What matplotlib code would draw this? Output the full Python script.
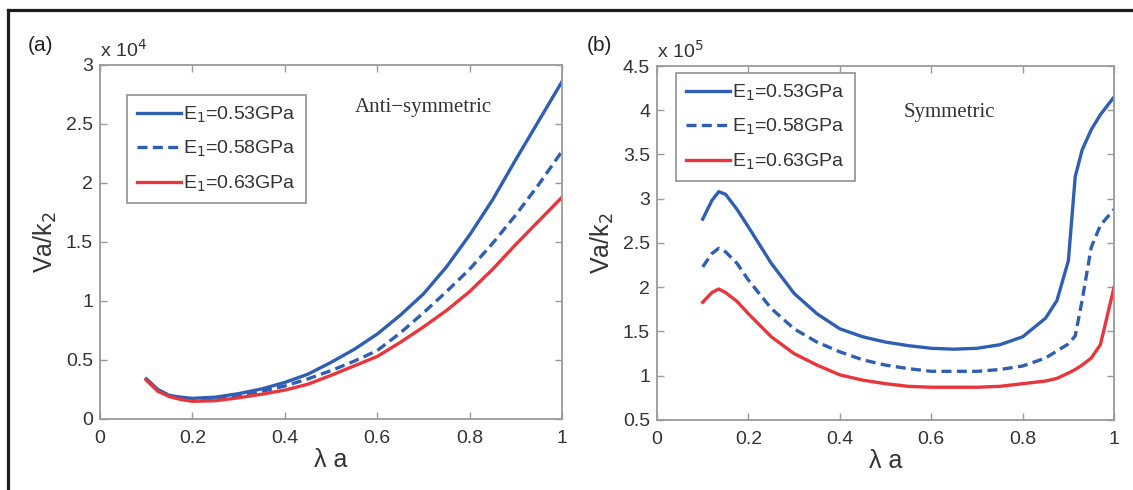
import numpy as np
import matplotlib
matplotlib.use("Agg")
import matplotlib.pyplot as plt
from matplotlib.lines import Line2D
from matplotlib.ticker import FuncFormatter

plt.rcParams["font.family"] = ["Liberation Sans", "DejaVu Sans"]

# ---------------------------------------------------------------------------
# Data
# ---------------------------------------------------------------------------
series_labels = ["E$_1$=0.53GPa", "E$_1$=0.58GPa", "E$_1$=0.63GPa"]

# (a) anti-symmetric mode
x_anti = [0.10, 0.125, 0.15, 0.175, 0.20, 0.25, 0.30, 0.35, 0.40, 0.45, 0.50,
          0.55, 0.60, 0.65, 0.70, 0.75, 0.80, 0.85, 0.90, 0.95, 1.00]
anti_053 = [3400, 2500, 2000, 1850, 1750, 1850, 2150, 2550, 3100, 3800, 4800,
            5900, 7200, 8800, 10600, 12900, 15600, 18600, 22000, 25300, 28600]
anti_058 = [3400, 2450, 1950, 1750, 1650, 1750, 2000, 2350, 2800, 3400, 4100,
            4900, 5800, 7300, 9000, 10800, 12700, 14900, 17300, 19900, 22700]
anti_063 = [3300, 2350, 1900, 1650, 1500, 1550, 1800, 2100, 2450, 2950, 3700,
            4500, 5300, 6500, 7800, 9200, 10800, 12700, 14800, 16800, 18800]

# (b) symmetric mode
x_sym = [0.10, 0.12, 0.135, 0.15, 0.175, 0.20, 0.25, 0.30, 0.35, 0.40, 0.45,
         0.50, 0.55, 0.60, 0.65, 0.70, 0.75, 0.80, 0.85, 0.875, 0.90, 0.915,
         0.93, 0.95, 0.97, 1.00]
sym_053 = [2.77, 2.98, 3.08, 3.05, 2.88, 2.68, 2.27, 1.93, 1.70, 1.53, 1.44,
           1.38, 1.34, 1.31, 1.30, 1.31, 1.35, 1.44, 1.65, 1.85, 2.30, 3.25,
           3.55, 3.78, 3.95, 4.15]
sym_058 = [2.23, 2.38, 2.44, 2.40, 2.27, 2.08, 1.76, 1.53, 1.38, 1.27, 1.18,
           1.12, 1.08, 1.05, 1.05, 1.05, 1.07, 1.11, 1.20, 1.28, 1.36, 1.45,
           1.85, 2.45, 2.70, 2.88]
sym_063 = [1.83, 1.94, 1.98, 1.94, 1.84, 1.70, 1.44, 1.25, 1.12, 1.01, 0.95,
           0.91, 0.88, 0.87, 0.87, 0.87, 0.88, 0.91, 0.94, 0.97, 1.03, 1.07,
           1.12, 1.20, 1.35, 2.00]
sym_053 = [v * 1e5 for v in sym_053]
sym_058 = [v * 1e5 for v in sym_058]
sym_063 = [v * 1e5 for v in sym_063]

BLUE = "#2f5fb5"
RED = "#e8363c"
SPINE = "#9a9a9a"
TXT = "#333333"


def style_axes(ax, scale, yticks, ylim, exp):
    ax.set_xlim(0, 1)
    ax.set_ylim(*ylim)
    ax.set_xticks([0, 0.2, 0.4, 0.6, 0.8, 1.0])
    ax.set_yticks(yticks)
    ax.xaxis.set_major_formatter(FuncFormatter(lambda v, p: "%g" % round(v, 2)))
    ax.yaxis.set_major_formatter(FuncFormatter(lambda v, p: "%g" % round(v / scale, 2)))
    ax.tick_params(direction="in", length=5, width=1, color=SPINE,
                   top=True, right=True, labelsize=14, labelcolor=TXT)
    ax.tick_params(axis="x", pad=8)
    ax.tick_params(axis="y", pad=5)
    for s in ax.spines.values():
        s.set_color(SPINE)
        s.set_linewidth(1.3)
    ax.set_xlabel("λ a", fontsize=18, color=TXT, labelpad=1)
    ax.set_ylabel("Va/k$_2$", fontsize=18, color=TXT, labelpad=5)
    ax.text(0.0, 1.012, "x 10$^{%d}$" % exp, transform=ax.transAxes,
            fontsize=14, color=TXT, ha="left", va="bottom")


fig = plt.figure(figsize=(11.33, 4.9), dpi=100)

# frame lines (top and left) around the figure
fig.add_artist(Line2D([0.0071, 0.0071], [0.0, 0.9796], color="#1e1e1e", lw=2.3))
fig.add_artist(Line2D([0.0071, 1.0], [0.9796, 0.9796], color="#1e1e1e", lw=2.3))

leg_kw = dict(loc="upper left", borderaxespad=0, fontsize=14, handlelength=2.3,
              handletextpad=0.1, labelspacing=0.72, fancybox=False,
              framealpha=1, edgecolor=SPINE, borderpad=0.5)

# ---------------------------------------------------------------------------
# Panel (a)
# ---------------------------------------------------------------------------
ax1 = fig.add_axes([0.0883, 0.1449, 0.4078, 0.7225])
ax1.plot(x_anti, anti_053, color=BLUE, lw=2.4, label=series_labels[0])
ax1.plot(x_anti, anti_058, color=BLUE, lw=2.4, ls=(0, (3, 1.6)), label=series_labels[1])
ax1.plot(x_anti, anti_063, color=RED, lw=2.4, label=series_labels[2])
style_axes(ax1, 1e4, [0, 5000, 10000, 15000, 20000, 25000, 30000], (0, 30000), 4)
leg1 = ax1.legend(bbox_to_anchor=(0.058, 0.915), **leg_kw)
leg1.get_frame().set_linewidth(1.3)
for t in leg1.get_texts():
    t.set_color(TXT)
ax1.text(0.70, 0.881, "Anti\u2212symmetric", transform=ax1.transAxes,
         fontsize=15, family="Liberation Serif", color=TXT,
         ha="center", va="center")
fig.text(0.0247, 0.908, "(a)", fontsize=15, color="#222222", ha="left", va="center")

# ---------------------------------------------------------------------------
# Panel (b)
# ---------------------------------------------------------------------------
ax2 = fig.add_axes([0.5799, 0.1429, 0.4034, 0.7224])
ax2.plot(x_sym, sym_053, color=BLUE, lw=2.4, label=series_labels[0])
ax2.plot(x_sym, sym_058, color=BLUE, lw=2.4, ls=(0, (3, 1.6)), label=series_labels[1])
ax2.plot(x_sym, sym_063, color=RED, lw=2.4, label=series_labels[2])
style_axes(ax2, 1e5, [0.5e5, 1e5, 1.5e5, 2e5, 2.5e5, 3e5, 3.5e5, 4e5, 4.5e5],
           (0.5e5, 4.5e5), 5)
leg2 = ax2.legend(bbox_to_anchor=(0.0416, 0.98), **leg_kw)
leg2.get_frame().set_linewidth(1.3)
for t in leg2.get_texts():
    t.set_color(TXT)
ax2.text(0.639, 0.87, "Symmetric", transform=ax2.transAxes,
         fontsize=15, family="Liberation Serif", color=TXT,
         ha="center", va="center")
fig.text(0.518, 0.908, "(b)", fontsize=15, color="#222222", ha="left", va="center")

fig.savefig("out.png", dpi=100)
